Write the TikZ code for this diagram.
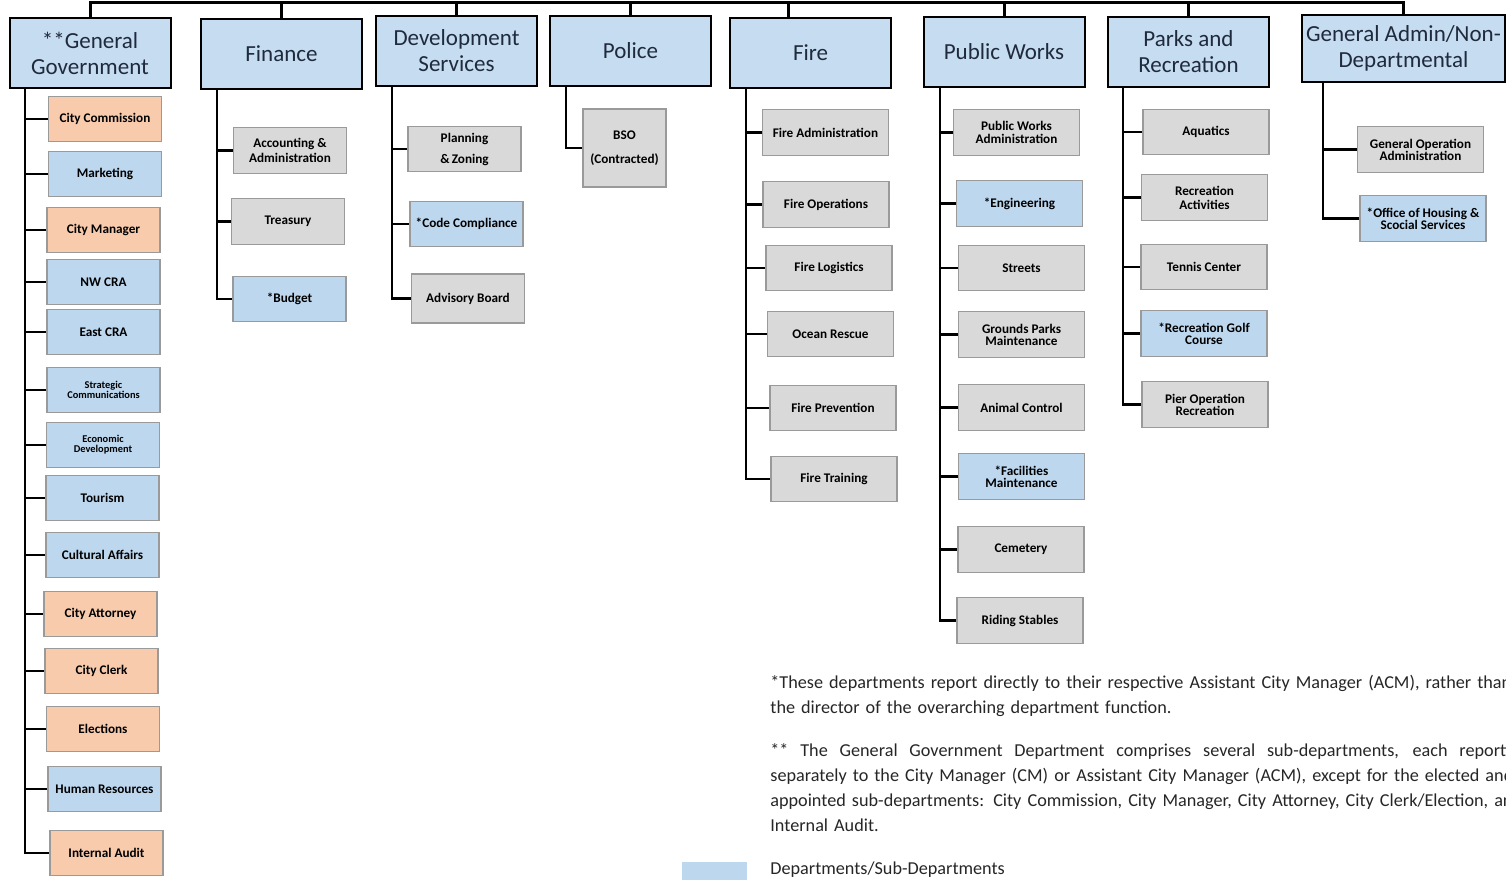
\documentclass[tikz,border=0pt]{standalone}
\usepackage{fontspec}
\setmainfont{Carlito}

\definecolor{headblue}{HTML}{C6DCF1}
\definecolor{headtext}{HTML}{1F2A3C}
\definecolor{subblue}{HTML}{BDD7EE}
\definecolor{suborange}{HTML}{F8CBAD}
\definecolor{subgray}{HTML}{D9D9D9}
\definecolor{subline}{HTML}{9A9A9A}

\tikzset{
  head/.style={draw=black, line width=1pt, fill=headblue, text=headtext, align=center,
    inner sep=0pt, minimum width=80.5pt, minimum height=35pt, font=\fontsize{11.5}{13}\selectfont},
  sub/.style={draw=subline, line width=0.7pt, fill=subgray, align=center, inner sep=0pt,
    minimum width=63pt, minimum height=22.75pt, font=\fontsize{6.6}{6}\selectfont\bfseries},
  blu/.style={sub, fill=subblue},
  org/.style={sub, fill=suborange},
  nar/.style={minimum width=56.5pt},
  small/.style={font=\fontsize{5.2}{4.9}\selectfont\bfseries},
  link/.style={line width=1.25pt, black},
  bar/.style={line width=1.5pt, black},
  note/.style={anchor=north west, inner sep=0pt, text width=430pt, align=left,
    text=black!85, font=\fontsize{9.1}{12.5}\selectfont}
}

\begin{document}
\begin{tikzpicture}[x=0.5pt, y=-0.5pt]
  \useasboundingbox (0,0) rectangle (1506,879);
  \clip (0,0) rectangle (1506,879);

  % departments
  \node[head] (gg) at (90,53) {**General\\Government};
  \node[head] (fin) at (281.5,53.5) {Finance};
  \node[head] (dev) at (456.5,50.5) {Development\\Services};
  \node[head] (pol) at (630.5,51) {Police};
  \node[head] (fire) at (810.5,52.5) {Fire};
  \node[head] (pw) at (1004,51.5) {Public Works};
  \node[head] (prk) at (1188.5,51.5) {Parks and\\Recreation};
  \node[head, minimum width=101.5pt, minimum height=33.5pt] (ga) at (1403.5,48.5) {General Admin/Non-\\Departmental};

  \coordinate (bus) at (0,2);
  \draw[bar] (gg.north) |- (ga.north |- bus) -- (ga.north);
  \foreach \h in {fin,dev,pol,pw,prk}
    \draw[bar] (\h.north) -- (\h.north |- bus);
  \draw[bar] ([xshift=-11pt]fire.north) -- ([xshift=-11pt]fire.north |- bus);

  % general government
  \node[org, nar] (gg1) at (105,119) {City Commission};
  \node[blu, nar] (gg2) at (105,174) {Marketing};
  \node[org, nar] (gg3) at (103.5,230) {City Manager};
  \node[blu, nar] (gg4) at (103.5,282) {NW CRA};
  \node[blu, nar] (gg5) at (103.5,332) {East CRA};
  \node[blu, nar, small] (gg6) at (103.5,390) {Strategic\\Communications};
  \node[blu, nar, small] (gg7) at (103,445) {Economic\\Development};
  \node[blu, nar] (gg8) at (102.5,498) {Tourism};
  \node[blu, nar] (gg9) at (102.5,555) {Cultural Affairs};
  \node[org, nar] (gg10) at (100.5,614) {City Attorney};
  \node[org, nar] (gg11) at (101.5,671) {City Clerk};
  \node[org, nar] (gg12) at (103,729) {Elections};
  \node[blu, nar] (gg13) at (104.5,789) {Human Resources};
  \node[org, nar] (gg14) at (106.5,853) {Internal Audit};

  % finance
  \node[sub, nar, font=\fontsize{6.6}{7.5}\selectfont\bfseries] (fin1) at (290,150.5) {Accounting \&\\Administration};
  \node[sub, nar] (fin2) at (288,221.5) {Treasury};
  \node[blu, nar] (fin3) at (289.5,299) {*Budget};

  % development services
  \node[sub, nar, font=\fontsize{6.6}{10.5}\selectfont\bfseries] (dev1) at (464.5,149) {Planning\\\&\,Zoning};
  \node[blu, nar] (dev2) at (466.5,224) {*Code Compliance};
  \node[sub, nar, minimum height=24.5pt] (dev3) at (468,298.5) {Advisory Board};

  % police
  \node[sub, minimum width=41.5pt, minimum height=39pt, font=\fontsize{6.6}{12}\selectfont\bfseries] (pol1) at (624.5,148) {BSO\\(Contracted)};

  % fire
  \node[sub] (fire1) at (825.5,132.5) {Fire Administration};
  \node[sub] (fire2) at (826,204.5) {Fire Operations};
  \node[sub] (fire3) at (829,268) {Fire Logistics};
  \node[sub] (fire4) at (830.5,334) {Ocean Rescue};
  \node[sub] (fire5) at (833,408) {Fire Prevention};
  \node[sub] (fire6) at (834,479) {Fire Training};

  % public works
  \node[sub, font=\fontsize{6.6}{6.5}\selectfont\bfseries] (pw1) at (1016.5,132.5) {Public Works\\Administration};
  \node[blu] (pw2) at (1019.5,203.5) {*Engineering};
  \node[sub] (pw3) at (1021.5,268) {Streets};
  \node[sub] (pw4) at (1021.5,334.5) {Grounds Parks\\Maintenance};
  \node[sub] (pw5) at (1021.5,407.5) {Animal Control};
  \node[blu] (pw6) at (1021.5,476.5) {*Facilities\\Maintenance};
  \node[sub] (pw7) at (1021,549.5) {Cemetery};
  \node[sub] (pw8) at (1020,620.5) {Riding Stables};

  % parks and recreation
  \node[sub] (prk1) at (1206,132) {Aquatics};
  \node[sub, font=\fontsize{6.6}{7}\selectfont\bfseries] (prk2) at (1204.5,197.5) {Recreation\\Activities};
  \node[sub] (prk3) at (1204,267) {Tennis Center};
  \node[blu] (prk4) at (1204,333.5) {*Recreation Golf\\Course};
  \node[sub] (prk5) at (1205,404.5) {Pier Operation\\Recreation};

  % general admin
  \node[sub] (ga1) at (1420.5,149.5) {General Operation\\Administration};
  \node[blu] (ga2) at (1423,218.5) {*Office of Housing \&\\Scocial Services};

  % trunks
  \coordinate (ggT) at (25,88);
  \coordinate (finT) at (217,89);
  \coordinate (devT) at (392,85);
  \coordinate (polT) at (566,86);
  \coordinate (fireT) at (746,87);
  \coordinate (pwT) at (940,86);
  \coordinate (prkT) at (1123,87);
  \coordinate (gaT) at (1323,82);

  \draw[link] (ggT) |- (gg14.west);
  \foreach \s in {gg1,gg2,gg3,gg4,gg5,gg6,gg7,gg8,gg9,gg10,gg11,gg12,gg13}
    \draw[link] (ggT |- \s.west) -- (\s.west);
  \draw[link] (finT) |- (fin3.west);
  \foreach \s in {fin1,fin2}
    \draw[link] (finT |- \s.west) -- (\s.west);
  \draw[link] (devT) |- (dev3.west);
  \foreach \s in {dev1,dev2}
    \draw[link] (devT |- \s.west) -- (\s.west);
  \draw[link] (polT) |- (pol1.west);
  \draw[link] (fireT) |- (fire6.west);
  \foreach \s in {fire1,fire2,fire3,fire4,fire5}
    \draw[link] (fireT |- \s.west) -- (\s.west);
  \draw[link] (pwT) |- (pw8.west);
  \foreach \s in {pw1,pw2,pw3,pw4,pw5,pw6,pw7}
    \draw[link] (pwT |- \s.west) -- (\s.west);
  \draw[link] (prkT) |- (prk5.west);
  \foreach \s in {prk1,prk2,prk3,prk4}
    \draw[link] (prkT |- \s.west) -- (\s.west);
  \draw[link] (gaT) |- (ga2.west);
  \draw[link] (gaT |- ga1.west) -- (ga1.west);

  % notes and legend
  \node[note] (note1) at (770,675) {*These departments report directly to their respective Assistant City Manager (ACM), rather than\\
    the director of the overarching department function.};
  \node[note] (note2) at (770,743) {\makebox[379pt][s]{\spaceskip=0pt\relax ** The General Government Department comprises several sub-departments, each reporting}\\
    separately to the City Manager (CM) or Assistant City Manager (ACM), except for the elected and\\
    appointed sub-departments: City Commission, City Manager, City Attorney, City Clerk/Election, and\\
    Internal Audit.};
  \node[fill=subblue, inner sep=0pt, minimum width=32.5pt, minimum height=12pt] (legblue) at (714.5,874) {};
  \node[anchor=west, inner sep=0pt, text=black!85, font=\fontsize{9.1}{10}\selectfont] (legtext) at (770,870) {Departments/Sub-Departments};
\end{tikzpicture}
\end{document}
